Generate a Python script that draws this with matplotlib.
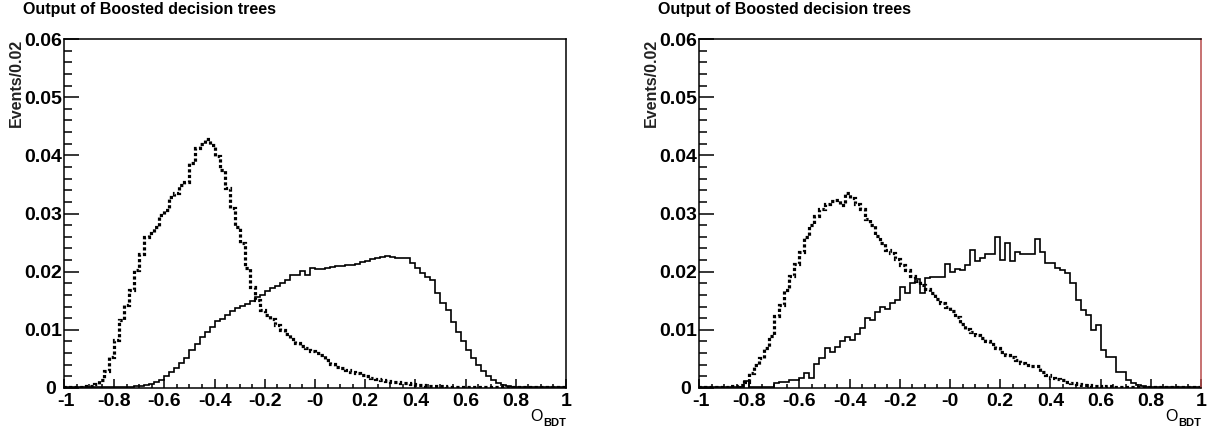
import numpy as np
from matplotlib.figure import Figure
from matplotlib.backends.backend_agg import FigureCanvasAgg as FigureCanvas
from matplotlib.ticker import FixedLocator, FixedFormatter, MultipleLocator
from matplotlib.transforms import ScaledTranslation

# histogram binning: 100 bins of 0.02 between -1 and 1
bin_edges = np.linspace(-1, 1, 101)

# left panel (solid = signal, dotted = background)
sig_left = [
    0.0001, 0.0001, 0.0001, 0.0001, 0.0001, 0.0001, 0.0001, 0.0001, 0.0001, 0.0001,
    0.0001, 0.0001, 0.0002, 0.0002, 0.0003, 0.0003, 0.0005, 0.0007, 0.0011, 0.0014,
    0.0020, 0.0028, 0.0034, 0.0043, 0.0052, 0.0065, 0.0076, 0.0088, 0.0096, 0.0105,
    0.0115, 0.0119, 0.0125, 0.0133, 0.0137, 0.0141, 0.0145, 0.0150, 0.0156, 0.0160,
    0.0166, 0.0172, 0.0176, 0.0180, 0.0186, 0.0194, 0.0194, 0.0202, 0.0194, 0.0206,
    0.0205, 0.0204, 0.0207, 0.0208, 0.0210, 0.0210, 0.0211, 0.0211, 0.0214, 0.0217,
    0.0219, 0.0221, 0.0223, 0.0225, 0.0227, 0.0225, 0.0224, 0.0224, 0.0224, 0.0215,
    0.0206, 0.0197, 0.0190, 0.0186, 0.0163, 0.0146, 0.0134, 0.0114, 0.0097, 0.0080,
    0.0065, 0.0051, 0.0040, 0.0029, 0.0021, 0.0014, 0.0008, 0.0005, 0.0003, 0.0002,
    0.0002, 0.0001, 0.0001, 0.0001, 0.0001, 0.0001, 0.0001, 0.0001, 0.0001, 0.0001,
]
bkg_left = [
    0.0002, 0.0001, 0.0002, 0.0001, 0.0003, 0.0004, 0.0007, 0.0013, 0.0030, 0.0053,
    0.0082, 0.0117, 0.0142, 0.0168, 0.0203, 0.0231, 0.0259, 0.0266, 0.0277, 0.0297,
    0.0306, 0.0329, 0.0335, 0.0349, 0.0355, 0.0386, 0.0412, 0.0420, 0.0428, 0.0418,
    0.0398, 0.0375, 0.0343, 0.0309, 0.0277, 0.0249, 0.0206, 0.0174, 0.0151, 0.0134,
    0.0125, 0.0118, 0.0108, 0.0100, 0.0092, 0.0085, 0.0078, 0.0072, 0.0068, 0.0064,
    0.0061, 0.0057, 0.0048, 0.0042, 0.0036, 0.0034, 0.0031, 0.0028, 0.0025, 0.0022,
    0.0020, 0.0017, 0.0016, 0.0014, 0.0012, 0.0011, 0.0010, 0.0009, 0.0008, 0.0007,
    0.0005, 0.0005, 0.0004, 0.0004, 0.0003, 0.0003, 0.0002, 0.0002, 0.0002, 0.0001,
    0.0002, 0.0001, 0.0002, 0.0001, 0.0001, 0.0002, 0.0001, 0.0001, 0.0001, 0.0001,
    0.0001, 0.0001, 0.0001, 0.0002, 0.0001, 0.0001, 0.0001, 0.0001, 0.0001, 0.0001,
]

# right panel
sig_right = [
    0.0001, 0.0001, 0.0001, 0.0001, 0.0001, 0.0001, 0.0001, 0.0001, 0.0001, 0.0012,
    0.0001, 0.0001, 0.0001, 0.0002, 0.0002, 0.0008, 0.0011, 0.0011, 0.0014, 0.0014,
    0.0017, 0.0026, 0.0017, 0.0042, 0.0051, 0.0068, 0.0062, 0.0070, 0.0081, 0.0088,
    0.0082, 0.0093, 0.0103, 0.0120, 0.0117, 0.0130, 0.0140, 0.0136, 0.0146, 0.0151,
    0.0174, 0.0163, 0.0180, 0.0188, 0.0163, 0.0189, 0.0190, 0.0190, 0.0190, 0.0214,
    0.0200, 0.0205, 0.0203, 0.0212, 0.0237, 0.0218, 0.0224, 0.0231, 0.0231, 0.0260,
    0.0220, 0.0249, 0.0218, 0.0233, 0.0230, 0.0231, 0.0231, 0.0257, 0.0234, 0.0215,
    0.0215, 0.0206, 0.0203, 0.0198, 0.0180, 0.0151, 0.0134, 0.0125, 0.0100, 0.0108,
    0.0065, 0.0054, 0.0054, 0.0028, 0.0028, 0.0014, 0.0008, 0.0005, 0.0003, 0.0001,
    0.0001, 0.0001, 0.0001, 0.0001, 0.0001, 0.0001, 0.0001, 0.0001, 0.0001, 0.0001,
]
bkg_right = [
    0.0002, 0.0001, 0.0002, 0.0002, 0.0001, 0.0002, 0.0003, 0.0004, 0.0006, 0.0011,
    0.0025, 0.0039, 0.0051, 0.0068, 0.0090, 0.0123, 0.0142, 0.0168, 0.0192, 0.0214,
    0.0233, 0.0260, 0.0280, 0.0296, 0.0308, 0.0316, 0.0321, 0.0323, 0.0314, 0.0335,
    0.0326, 0.0317, 0.0308, 0.0290, 0.0280, 0.0262, 0.0250, 0.0238, 0.0232, 0.0222,
    0.0212, 0.0203, 0.0192, 0.0184, 0.0177, 0.0170, 0.0164, 0.0153, 0.0146, 0.0139,
    0.0132, 0.0122, 0.0110, 0.0102, 0.0096, 0.0091, 0.0086, 0.0080, 0.0075, 0.0068,
    0.0062, 0.0057, 0.0053, 0.0048, 0.0043, 0.0040, 0.0038, 0.0037, 0.0027, 0.0022,
    0.0018, 0.0015, 0.0013, 0.0010, 0.0008, 0.0007, 0.0006, 0.0005, 0.0004, 0.0004,
    0.0002, 0.0003, 0.0002, 0.0002, 0.0001, 0.0002, 0.0001, 0.0001, 0.0002, 0.0001,
    0.0001, 0.0001, 0.0001, 0.0001, 0.0001, 0.0002, 0.0001, 0.0001, 0.0001, 0.0001,
]

# axis ticks and labels
x_ticks = [-1, -0.8, -0.6, -0.4, -0.2, 0, 0.2, 0.4, 0.6, 0.8, 1]
x_tick_labels = ["-1", "-0.8", "-0.6", "-0.4", "-0.2", "-0", "0.2", "0.4", "0.6", "0.8", "1"]
y_ticks = [0, 0.01, 0.02, 0.03, 0.04, 0.05, 0.06]
y_tick_labels = ["0", "0.01", "0.02", "0.03", "0.04", "0.05", "0.06"]

title = "Output of Boosted decision trees"
y_title = "Events/0.02"

FONT = "Liberation Sans"
W, H = 1215, 434

# create figure (OO style)
fig = Figure(figsize=(W / 100, H / 100), dpi=100)
canvas = FigureCanvas(fig)

panels = [
    (64, sig_left, bkg_left, "black"),
    (699, sig_right, bkg_right, "#b84a4a"),
]

for left_px, sig, bkg, right_color in panels:
    ax = fig.add_axes([left_px / W, 46 / H, 502 / W, 349 / H])

    # background (dotted) and signal (solid) histograms
    ax.stairs(bkg, bin_edges, color="black", linewidth=2.3, linestyle=(0, (1.0, 0.75)))
    ax.stairs(sig, bin_edges, color="black", linewidth=1.2)

    ax.set_xlim(-1, 1)
    ax.set_ylim(0, 0.06)

    # ROOT-like ticks
    ax.xaxis.set_major_locator(FixedLocator(x_ticks))
    ax.xaxis.set_major_formatter(FixedFormatter(x_tick_labels))
    ax.xaxis.set_minor_locator(MultipleLocator(0.05))
    ax.yaxis.set_major_locator(FixedLocator(y_ticks))
    ax.yaxis.set_major_formatter(FixedFormatter(y_tick_labels))
    ax.yaxis.set_minor_locator(MultipleLocator(0.002))
    ax.tick_params(which="both", direction="in", top=False, right=False, width=1.1)
    ax.tick_params(axis="x", which="major", length=6.5, pad=3.5)
    ax.tick_params(axis="x", which="minor", length=3)
    ax.tick_params(axis="y", which="major", length=11, pad=1.5)
    ax.tick_params(axis="y", which="minor", length=5.5)
    for lab in ax.get_xticklabels() + ax.get_yticklabels():
        lab.set_fontfamily(FONT)
        lab.set_fontweight("bold")
        lab.set_fontsize(14)

    # keep the corner labels "0" and "-1" apart
    y0_lab = ax.get_yticklabels()[0]
    y0_lab.set_transform(y0_lab.get_transform() + ScaledTranslation(-0.06, 0, fig.dpi_scale_trans))
    x0_lab = ax.get_xticklabels()[0]
    x0_lab.set_transform(x0_lab.get_transform() + ScaledTranslation(0.02, 0, fig.dpi_scale_trans))

    for side in ["left", "right", "top", "bottom"]:
        ax.spines[side].set_linewidth(1.1)
    ax.spines["right"].set_color(right_color)

    # title, y title and x title
    fig.text((left_px - 41) / W, 1 - 2 / H, title, ha="left", va="top",
             fontsize=11.5, fontweight="bold", family=FONT)
    fig.text((left_px - 48) / W, 1 - 39 / H, y_title, rotation=90, ha="center", va="top",
             fontsize=11.5, fontweight="bold", family=FONT, color="#222222")
    right_px = left_px + 502
    fig.text((right_px - 36) / W, 1 - 421 / H, "O", ha="left", va="baseline",
             fontsize=11.5, family=FONT)
    fig.text((right_px - 23) / W, 1 - 426 / H, "BDT", ha="left", va="baseline",
             fontsize=8, fontweight="bold", family=FONT)

# render/save output
fig.savefig("out.png", dpi=100)
